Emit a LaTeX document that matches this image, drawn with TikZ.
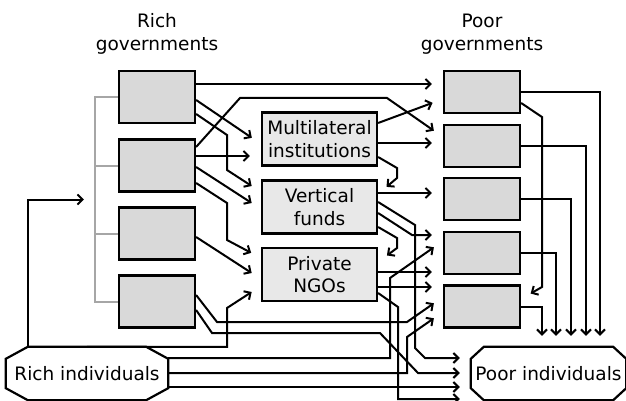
\documentclass[tikz,border=0pt]{standalone}
\usepackage{fontspec}
\setmainfont{DejaVu Sans}
\usepackage{tikz}
\usetikzlibrary{arrows.meta,calc}
\definecolor{govgray}{HTML}{D9D9D9}
\definecolor{changray}{HTML}{E8E8E8}
\definecolor{linkgray}{HTML}{A6A6A6}
\tikzset{
    govbox/.style={
        rectangle,
        draw=black,
        line width=2.2pt,
        fill=govgray,
        inner sep=0pt,
        minimum width=76pt,
        minimum height=52pt},
    poorbox/.style={govbox, minimum height=42pt},
    channel/.style={
        rectangle,
        draw=black,
        line width=2.2pt,
        fill=changray,
        inner sep=0pt,
        align=center,
        minimum width=115pt,
        minimum height=53pt},
    people/.style={rectangle, inner sep=0pt, minimum height=53pt},
    heading/.style={align=center},
    flow/.style={line width=2pt, -{Straight Barb[length=5pt,width=10pt]}, shorten >=11pt},
    groupline/.style={line width=2pt, draw=linkgray}
}
% octagon round a people node: name, x cut, y cut
\newcommand{\octframe}[3]{%
  \draw[line width=2.2pt] ($(#1.north west)+(#2,0)$) -- ($(#1.north east)+(-#2,0)$)
    -- ($(#1.north east)+(0,#3)$) -- ($(#1.south east)+(0,-#3)$)
    -- ($(#1.south east)+(-#2,0)$) -- ($(#1.south west)+(#2,0)$)
    -- ($(#1.south west)+(0,-#3)$) -- ($(#1.north west)+(0,#3)$) -- cycle;}

\begin{document}
\begin{tikzpicture}[x=1pt,y=-1pt,font=\fontsize{18.5}{22.5}\selectfont]
    \useasboundingbox (0,0) rectangle (626,401);

    \node[heading] (rgt) at (157,34) {Rich\\governments};
    \node[heading] (pgt) at (482,34) {Poor\\governments};

    % rich governments
    \node[govbox] (rg1) at (157,97) {};
    \node[govbox] (rg2) at (157,165.5) {};
    \node[govbox] (rg3) at (157,233.5) {};
    \node[govbox] (rg4) at (157,301.5) {};
    \draw[groupline] (rg1.west) -- ++(-23,0) |- (rg4.west);
    \draw[groupline] (rg2.west) -- ++(-23,0);
    \draw[groupline] (rg3.west) -- ++(-23,0);
    \coordinate (rgin) at ($(rg2.west)!.5!(rg3.west)+(-23,0)$);

    % channels
    \node[channel] (ml) at (319.5,139) {Multilateral\\institutions};
    \node[channel] (vf) at (319.5,207) {Vertical\\funds};
    \node[channel] (ngo) at (319.5,274.5) {Private\\NGOs};

    % poor governments
    \node[poorbox] (pg1) at (482,92) {};
    \node[poorbox] (pg2) at (482,146) {};
    \node[poorbox] (pg3) at (482,199) {};
    \node[poorbox] (pg4) at (482,253) {};
    \node[poorbox] (pg5) at (482,306.5) {};

    % individuals
    \node[people, minimum width=162pt] (ri) at (87,373.5) {Rich individuals};
    \node[people, minimum width=155pt] (pi) at (548.5,373.5) {Poor individuals};
    \octframe{ri}{22}{12}
    \octframe{pi}{13}{12}
    \coordinate (ritop) at ($(ri.north west)+(22,0)$);

    % from rich governments
    \draw[flow] (rg1.east |- 0,84) -- (pg1.west |- 0,84);
    \draw[flow] (rg1.east |- 0,100) -- (ml.west |- 0,144);
    \draw[flow] (rg1.east |- 0,114) -- (227,135) -- (227,170) -- (vf.west |- 0,192);
    \draw[flow] (rg2.east |- 0,147) -- (240,98) -- (387,98) -- (pg2.west |- 0,137);
    \draw[flow] (rg2.east |- 0,156) -- (ml.west |- 0,156);
    \draw[flow] (rg2.east |- 0,167) -- (vf.west |- 0,209);
    \draw[flow] (rg2.east |- 0,183) -- (227,203) -- (227,240) -- (ngo.west |- 0,258);
    \draw[flow] (rg3.east |- 0,237) -- (ngo.west |- 0,279);
    \draw[flow] (rg4.east |- 0,295) -- (217,322) -- (407,322) -- (pg5.west |- 0,297);
    \draw[flow] (rg4.east |- 0,310) -- (212,333) -- (380,333) -- (418,373) -- (pi.west |- 0,373);

    % from the channels
    \draw[flow] (ml.east |- 0,123) -- (pg1.west |- 0,99);
    \draw[flow] (ml.east |- 0,143) -- (pg2.west |- 0,143);
    \draw[flow] (ml.east |- 0,157) -- (397,168) -- (397,178) -- (vf.east |- 0,194);
    \draw[flow] (vf.east |- 0,193) -- (pg3.west |- 0,193);
    \draw[flow] (vf.east |- 0,202) -- (415,225) -- (415,348) -- (425,358) -- (pi.west |- 0,358);
    \draw[flow] (vf.east |- 0,213) -- (412,235) -- (pg4.west |- 0,235);
    \draw[flow] (vf.east |- 0,227) -- (397,238) -- (397,248) -- (ngo.east |- 0,262);
    \draw[flow] (ngo.east |- 0,272) -- (pg4.west |- 0,272);
    \draw[flow] (ngo.east |- 0,287) -- (pg5.west |- 0,287);
    \draw[flow] (ngo.east |- 0,293) -- (398,307) -- (398,399) -- (pi.west |- 0,399);

    % from rich individuals
    \draw[flow] (ritop) |- (rgin);
    \draw[flow] (ri.north) -| (227,308) -- (ngo.west |- 0,286);
    \draw[flow] (ri.east |- 0,358) -- (390,358) -- (390,278) -- (pg4.west |- 0,241);
    \draw[flow] (ri.east |- 0,373) -- (407,373) -- (407,337) -- (pg5.west |- 0,312);
    \draw[flow] (ri.east |- 0,387) -- (pi.west |- 0,387);

    % from poor governments
    \draw[flow] (pg1.east) -| (pi.north -| 600,0);
    \draw[flow] (pg1.east |- 0,103) -- (542,117) -- (542,287) -- (pg5.east |- 0,299);
    \draw[flow] (pg2.east) -| (pi.north -| 586,0);
    \draw[flow] (pg3.east) -| (pi.north -| 571,0);
    \draw[flow] (pg4.east) -| (pi.north -| 556,0);
    \draw[flow] (pg5.east) -| (pi.north -| 542,0);
\end{tikzpicture}
\end{document}
